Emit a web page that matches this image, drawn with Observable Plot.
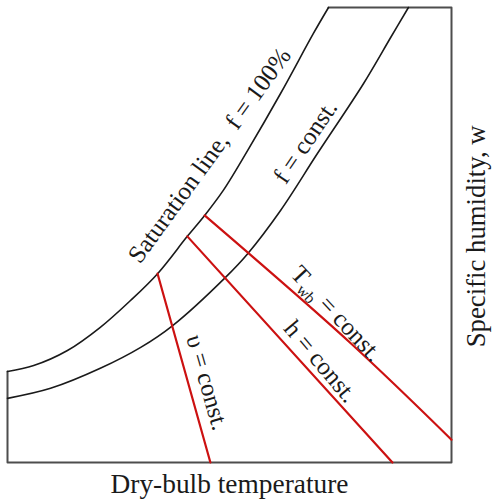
<!DOCTYPE html>
<html>
<head>
<meta charset="utf-8">
<script src="https://cdn.jsdelivr.net/npm/d3@7"></script>
<script src="https://cdn.jsdelivr.net/npm/@observablehq/plot@0.6"></script>
<style>
  html, body { margin: 0; padding: 0; background: #fff; }
  #chart { width: 492px; height: 503px; }
</style>
</head>
<body>
<div id="chart"></div>
<script>
// Abstract schematic units: dry-bulb temperature (0-100) vs specific humidity (0-100)
const satT = [0, 5.9, 13.5, 20.9, 27.7, 33.8, 40.5, 44.4, 48.6, 54.1, 61.5, 68.9, 72.3];
const satW = [20.0, 21.3, 24.6, 29.7, 35.6, 41.5, 49.7, 54.3, 59.8, 68.6, 81.1, 94.3, 100];

const relT = [0, 9.7, 20.9, 30.0, 37.2, 49.1, 54.1, 61.5, 69.8, 80.2, 86.3, 90.3];
const relW = [14.1, 16.3, 20.7, 25.3, 30.1, 40.7, 45.9, 55.4, 67.9, 83.3, 93.4, 100];

const vT = [33.8, 45.7];
const vW = [41.5, 0];
const hT = [40.5, 86.7];
const hW = [49.7, 0];
const twbT = [44.4, 77.3, 100];
const twbW = [54.3, 26.2, 5.0];

const frameT = [72.3, 100, 100, 0, 0];
const frameW = [100, 100, 0, 0, 20.0];

const labelText  = ["Saturation line,  f = 100%", "f = const.", "Twb = const.", "h = const.", "υ = const."];
const labelT     = [45.5, 67.1, 74.1, 70.5, 45.0];
const labelW     = [67.5, 70.5, 32.7, 22.2, 17.6];
const labelAngle = [-54, -56, 47, 50, 74];

const xTitle = "Dry-bulb temperature";
const yTitle = "Specific humidity, w";

const pts = (xs, ys) => xs.map((x, i) => ({x, y: ys[i]}));
const labels = labelText.map((t, i) => ({t, x: labelT[i], y: labelW[i], a: labelAngle[i]}));

const font = "'Liberation Serif', 'DejaVu Serif', serif";

const chart = Plot.plot({
  width: 492,
  height: 503,
  marginLeft: 7,
  marginRight: 41,
  marginTop: 7,
  marginBottom: 41,
  x: {domain: [0, 100], axis: null},
  y: {domain: [0, 100], axis: null},
  style: {background: "#fff", fontFamily: font},
  marks: [
    Plot.line(pts(frameT, frameW), {x: "x", y: "y", stroke: "#4d4d4d", strokeWidth: 2}),
    Plot.line(pts(satT, satW), {x: "x", y: "y", stroke: "#1a1a1a", strokeWidth: 1.6, curve: "catmull-rom"}),
    Plot.line(pts(relT, relW), {x: "x", y: "y", stroke: "#1a1a1a", strokeWidth: 1.6, curve: "catmull-rom"}),
    Plot.line(pts(vT, vW), {x: "x", y: "y", stroke: "#cc1111", strokeWidth: 2.2}),
    Plot.line(pts(hT, hW), {x: "x", y: "y", stroke: "#cc1111", strokeWidth: 2.2}),
    Plot.line(pts(twbT, twbW), {x: "x", y: "y", stroke: "#cc1111", strokeWidth: 2.2, curve: "catmull-rom"}),
    Plot.text(labels, {x: "x", y: "y", text: "t", rotate: "a", fontSize: 25, fontFamily: font, fill: "#1a1a1a"}),
    Plot.text([xTitle], {x: 50.0, y: -4.8, text: d => d, fontSize: 28, fontFamily: font, fill: "#1a1a1a"}),
    Plot.text([yTitle], {x: 105.6, y: 49.7, text: d => d, rotate: -90, fontSize: 27, fontFamily: font, fill: "#1a1a1a"})
  ]
});

const ns = "http://www.w3.org/2000/svg";
chart.querySelectorAll("text").forEach(el => {
  if (el.textContent === "Twb = const.") {
    el.textContent = "";
    const a = document.createElementNS(ns, "tspan"); a.textContent = "T";
    const b = document.createElementNS(ns, "tspan"); b.textContent = "wb"; b.setAttribute("font-size", "16"); b.setAttribute("dy", "6");
    const c = document.createElementNS(ns, "tspan"); c.textContent = " = const."; c.setAttribute("dy", "-6");
    el.append(a, b, c);
  } else if (el.textContent === yTitle) {
    el.setAttribute("textLength", "222");
    el.setAttribute("lengthAdjust", "spacingAndGlyphs");
  } else if (el.textContent === xTitle) {
    el.setAttribute("textLength", "238");
    el.setAttribute("lengthAdjust", "spacingAndGlyphs");
  }
});

document.getElementById("chart").append(chart);
</script>
</body>
</html>
